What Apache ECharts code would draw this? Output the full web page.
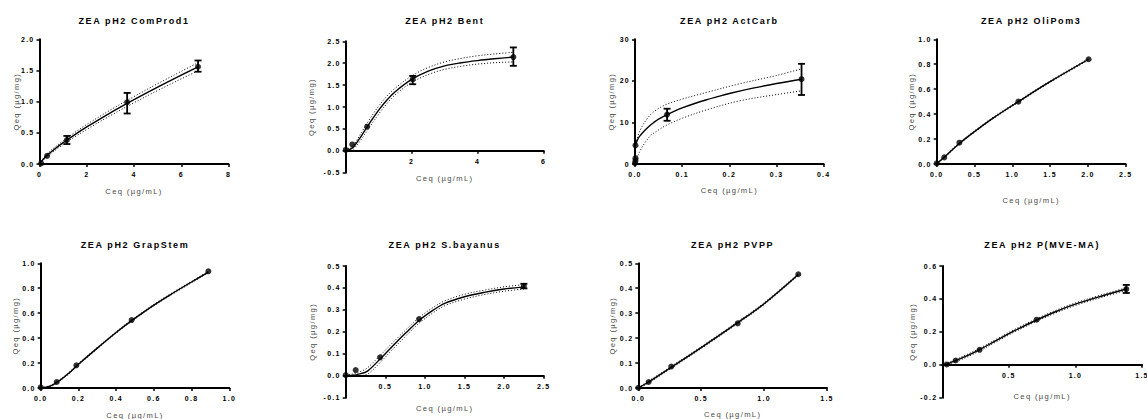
<!DOCTYPE html>
<html>
<head>
<meta charset="utf-8">
<script src="https://cdn.jsdelivr.net/npm/echarts@6/dist/echarts.min.js"></script>
<style>
  html, body { margin: 0; padding: 0; background: #fff; }
  #chart { width: 1147px; height: 419px; }
  /* the source plots use spaced-out lettering */
  #chart text { letter-spacing: 0.18em; }
</style>
</head>
<body>
<div id="chart"></div>
<script>
const xName = 'Ceq (µg/mL)';
const yName = 'Qeq (µg/mg)';

// --- ZEA pH2 ComProd1
const comProd1XLabels = ['0', '2', '4', '6', '8'];
const comProd1YLabels = ['0.0', '0.5', '1.0', '1.5', '2.0'];
const comProd1Points = [[0.07, 0.01], [0.32, 0.13], [1.16, 0.385], [3.71, 0.99], [6.71, 1.56]];
const comProd1Err = [[1.16, 0.32, 0.45], [3.71, 0.81, 1.14], [6.71, 1.48, 1.66]];
const comProd1Fit = [[0, 0], [0.02, 0.015], [0.25, 0.113], [0.5, 0.197], [1, 0.342], [1.5, 0.472], [2, 0.594], [3, 0.821], [4, 1.032], [5, 1.233], [6, 1.426], [6.71, 1.559]];
const comProd1Upper = [[0, 0], [0.25, 0.133], [0.5, 0.222], [1, 0.372], [1.5, 0.507], [2, 0.634], [3, 0.866], [4, 1.082], [5, 1.288], [6, 1.486], [6.71, 1.624]];
const comProd1Lower = [[0, 0], [0.25, 0.093], [0.5, 0.172], [1, 0.312], [1.5, 0.437], [2, 0.554], [3, 0.776], [4, 0.982], [5, 1.178], [6, 1.366], [6.71, 1.494]];

// --- ZEA pH2 Bent
const bentXLabels = ['0', '2', '4', '6'];
const bentYLabels = ['-0.5', '0.0', '0.5', '1.0', '1.5', '2.0', '2.5'];
const bentPoints = [[0, 0.02], [0.2, 0.145], [0.65, 0.55], [2.03, 1.63], [5.08, 2.14]];
const bentErr = [[2.03, 1.52, 1.71], [5.08, 1.94, 2.36]];
const bentFit = [[0, 0], [0.1, 0.02], [0.25, 0.1], [0.5, 0.37], [0.75, 0.66], [1, 0.93], [1.25, 1.16], [1.5, 1.35], [2, 1.63], [2.5, 1.82], [3, 1.94], [3.5, 2.01], [4, 2.06], [4.5, 2.1], [5.08, 2.14]];
const bentUpper = [[0, 0.01], [0.25, 0.15], [0.5, 0.45], [0.75, 0.75], [1, 1.02], [1.25, 1.25], [1.5, 1.43], [2, 1.71], [2.5, 1.9], [3, 2.03], [3.5, 2.11], [4, 2.17], [4.5, 2.21], [5.08, 2.25]];
const bentLower = [[0.15, 0], [0.25, 0.05], [0.5, 0.29], [0.75, 0.57], [1, 0.84], [1.25, 1.08], [1.5, 1.28], [2, 1.56], [2.5, 1.74], [3, 1.86], [3.5, 1.93], [4, 1.98], [4.5, 2.01], [5.08, 2.03]];

// --- ZEA pH2 ActCarb
const actCarbXLabels = ['0.0', '0.1', '0.2', '0.3', '0.4'];
const actCarbYLabels = ['0', '10', '20', '30'];
const actCarbPoints = [[0, 0.2], [0.001, 0.8], [0.001, 1.4], [0.001, 4.5], [0.068, 11.9], [0.353, 20.4]];
const actCarbErr = [[0.068, 10.4, 13.3], [0.353, 16.6, 24.1]];
const actCarbFit = [[0, 0], [0.0003, 3.0], [0.001, 4.5], [0.003, 5.2], [0.006, 6.0], [0.01, 6.7], [0.02, 8.0], [0.03, 9.1], [0.04, 10.0], [0.05, 10.8], [0.068, 11.9], [0.085, 12.8], [0.1, 13.5], [0.125, 14.5], [0.15, 15.4], [0.175, 16.2], [0.2, 16.96], [0.25, 18.24], [0.3, 19.36], [0.353, 20.4]];
const actCarbUpper = [[0, 2.0], [0.0005, 3.5], [0.003, 5.5], [0.013, 8.6], [0.03, 11.5], [0.045, 13.0], [0.068, 14.4], [0.1, 15.6], [0.151, 17.2], [0.222, 19.3], [0.3, 21.3], [0.353, 22.9]];
const actCarbLower = [[0, 0], [0.01, 3.0], [0.031, 6.6], [0.05, 8.2], [0.068, 9.4], [0.1, 11.0], [0.151, 13.0], [0.222, 15.2], [0.3, 16.7], [0.353, 17.6]];

// --- ZEA pH2 OliPom3
const oliPomXLabels = ['0.0', '0.5', '1.0', '1.5', '2.0', '2.5'];
const oliPomYLabels = ['0.0', '0.2', '0.4', '0.6', '0.8', '1.0'];
const oliPomPoints = [[0, 0.005], [0.1, 0.053], [0.3, 0.171], [1.08, 0.5], [2.01, 0.84]];
const oliPomErr = [];
const oliPomFit = [[0, 0], [0.1, 0.055], [0.3, 0.165], [0.5, 0.26], [0.75, 0.37], [1.08, 0.5], [1.5, 0.66], [2.01, 0.84]];
const oliPomUpper = [[0, 0.002], [0.1, 0.059], [0.3, 0.171], [0.5, 0.266], [0.75, 0.376], [1.08, 0.506], [1.5, 0.666], [2.01, 0.846]];
const oliPomLower = [[0, -0.002], [0.1, 0.051], [0.3, 0.159], [0.5, 0.254], [0.75, 0.364], [1.08, 0.494], [1.5, 0.654], [2.01, 0.834]];

// --- ZEA pH2 GrapStem
const grapStemXLabels = ['0.0', '0.2', '0.4', '0.6', '0.8', '1.0'];
const grapStemYLabels = ['0.0', '0.2', '0.4', '0.6', '0.8', '1.0'];
const grapStemPoints = [[0, 0.005], [0.085, 0.048], [0.189, 0.182], [0.482, 0.545], [0.889, 0.936]];
const grapStemErr = [];
const grapStemFit = [[0, 0], [0.05, 0.015], [0.1, 0.06], [0.15, 0.12], [0.2, 0.19], [0.3, 0.32], [0.4, 0.445], [0.482, 0.54], [0.6, 0.665], [0.7, 0.76], [0.8, 0.85], [0.889, 0.93]];
const grapStemUpper = [[0, 0.002], [0.05, 0.02], [0.1, 0.066], [0.15, 0.126], [0.2, 0.196], [0.3, 0.326], [0.4, 0.451], [0.482, 0.546], [0.6, 0.671], [0.7, 0.766], [0.8, 0.856], [0.889, 0.936]];
const grapStemLower = [[0, -0.002], [0.05, 0.01], [0.1, 0.054], [0.15, 0.114], [0.2, 0.184], [0.3, 0.314], [0.4, 0.439], [0.482, 0.534], [0.6, 0.659], [0.7, 0.754], [0.8, 0.844], [0.889, 0.924]];

// --- ZEA pH2 S.bayanus
const bayanusXLabels = ['0.0', '0.5', '1.0', '1.5', '2.0', '2.5'];
const bayanusYLabels = ['-0.1', '0.0', '0.1', '0.2', '0.3', '0.4', '0.5'];
const bayanusPoints = [[0, 0.003], [0.126, 0.026], [0.434, 0.084], [0.926, 0.258], [2.25, 0.409]];
const bayanusErr = [[2.25, 0.398, 0.419]];
const bayanusFit = [[0, 0], [0.1, 0.002], [0.15, 0.006], [0.25, 0.016], [0.3, 0.028], [0.434, 0.076], [0.6, 0.138], [0.75, 0.192], [0.926, 0.252], [1.1, 0.298], [1.25, 0.33], [1.5, 0.36], [1.75, 0.38], [2.0, 0.395], [2.25, 0.405]];
const bayanusUpper = [[0, 0.004], [0.1, 0.008], [0.15, 0.014], [0.25, 0.03], [0.3, 0.044], [0.434, 0.092], [0.6, 0.153], [0.75, 0.206], [0.926, 0.265], [1.1, 0.31], [1.25, 0.341], [1.5, 0.371], [1.75, 0.39], [2.0, 0.405], [2.25, 0.415]];
const bayanusLower = [[0.1, -0.003], [0.15, -0.002], [0.25, 0.004], [0.3, 0.013], [0.434, 0.06], [0.6, 0.123], [0.75, 0.178], [0.926, 0.239], [1.1, 0.286], [1.25, 0.319], [1.5, 0.349], [1.75, 0.37], [2.0, 0.385], [2.25, 0.395]];

// --- ZEA pH2 PVPP
const pvppXLabels = ['0.0', '0.5', '1.0', '1.5'];
const pvppYLabels = ['0.0', '0.1', '0.2', '0.3', '0.4', '0.5'];
const pvppPoints = [[0, 0.001], [0.082, 0.024], [0.262, 0.086], [0.79, 0.259], [1.272, 0.456]];
const pvppErr = [];
const pvppFit = [[0, 0], [0.082, 0.024], [0.262, 0.083], [0.5, 0.162], [0.79, 0.262], [1.0, 0.338], [1.272, 0.455]];
const pvppUpper = [[0, 0.002], [0.082, 0.028], [0.262, 0.087], [0.5, 0.166], [0.79, 0.266], [1.0, 0.342], [1.272, 0.459]];
const pvppLower = [[0, -0.002], [0.082, 0.02], [0.262, 0.079], [0.5, 0.158], [0.79, 0.258], [1.0, 0.334], [1.272, 0.451]];

// --- ZEA pH2 P(MVE-MA)
const mveXLabels = ['0.0', '0.5', '1.0', '1.5'];
const mveYLabels = ['-0.2', '0.0', '0.2', '0.4', '0.6'];
const mvePoints = [[0.033, 0.002], [0.1, 0.026], [0.28, 0.091], [0.709, 0.274], [1.382, 0.46]];
const mveErr = [[1.382, 0.436, 0.485]];
const mveFit = [[0.02, 0], [0.1, 0.025], [0.2, 0.06], [0.28, 0.092], [0.4, 0.145], [0.55, 0.21], [0.709, 0.272], [0.85, 0.322], [1.0, 0.368], [1.2, 0.418], [1.382, 0.46]];
const mveUpper = [[0.02, 0.004], [0.1, 0.032], [0.2, 0.068], [0.28, 0.1], [0.4, 0.153], [0.55, 0.218], [0.709, 0.28], [0.85, 0.33], [1.0, 0.376], [1.2, 0.426], [1.382, 0.468]];
const mveLower = [[0.02, -0.004], [0.1, 0.018], [0.2, 0.052], [0.28, 0.084], [0.4, 0.137], [0.55, 0.202], [0.709, 0.264], [0.85, 0.314], [1.0, 0.36], [1.2, 0.41], [1.382, 0.452]];

const panels = [
  { title: 'ZEA pH2 ComProd1', xl: comProd1XLabels, yl: comProd1YLabels, pts: comProd1Points, err: comProd1Err, fit: comProd1Fit, up: comProd1Upper, lo: comProd1Lower },
  { title: 'ZEA pH2 Bent', xl: bentXLabels, yl: bentYLabels, pts: bentPoints, err: bentErr, fit: bentFit, up: bentUpper, lo: bentLower },
  { title: 'ZEA pH2 ActCarb', xl: actCarbXLabels, yl: actCarbYLabels, pts: actCarbPoints, err: actCarbErr, fit: actCarbFit, up: actCarbUpper, lo: actCarbLower },
  { title: 'ZEA pH2 OliPom3', xl: oliPomXLabels, yl: oliPomYLabels, pts: oliPomPoints, err: oliPomErr, fit: oliPomFit, up: oliPomUpper, lo: oliPomLower },
  { title: 'ZEA pH2 GrapStem', xl: grapStemXLabels, yl: grapStemYLabels, pts: grapStemPoints, err: grapStemErr, fit: grapStemFit, up: grapStemUpper, lo: grapStemLower },
  { title: 'ZEA pH2 S.bayanus', xl: bayanusXLabels, yl: bayanusYLabels, pts: bayanusPoints, err: bayanusErr, fit: bayanusFit, up: bayanusUpper, lo: bayanusLower },
  { title: 'ZEA pH2 PVPP', xl: pvppXLabels, yl: pvppYLabels, pts: pvppPoints, err: pvppErr, fit: pvppFit, up: pvppUpper, lo: pvppLower },
  { title: 'ZEA pH2 P(MVE-MA)', xl: mveXLabels, yl: mveYLabels, pts: mvePoints, err: mveErr, fit: mveFit, up: mveUpper, lo: mveLower },
];

const boxes = [
  { left: 39.5, top: 39.3, width: 189, height: 124.7 },
  { left: 345.7, top: 41.3, width: 198, height: 131.4 },
  { left: 635, top: 39.3, width: 188.7, height: 124.7 },
  { left: 936.7, top: 39.3, width: 189, height: 124.7 },
  { left: 40.7, top: 263.3, width: 188.6, height: 124.7 },
  { left: 345.7, top: 266, width: 198, height: 131.7 },
  { left: 638.3, top: 263.3, width: 188.7, height: 124.7 },
  { left: 942.3, top: 266, width: 199.7, height: 131.7 },
];
const xNameGap = [23, 24, 22, 32, 23.5, 28.5, 22.5, 27.5];
const yNameGap = [19.5, 30.5, 19.5, 21.5, 21, 29, 21.5, 26];
const titleTop = [16, 16, 16, 16, 240, 240, 240, 240];

const FONT = "'Liberation Sans', Arial, sans-serif";

function labelFor(labels) {
  const vals = labels.map(Number);
  return (v) => {
    const i = vals.findIndex(t => Math.abs(t - v) < 1e-9);
    return i < 0 ? '' : labels[i];
  };
}

function errorBar(params, api) {
  const x = api.value(0);
  const a = api.coord([x, api.value(1)]);
  const b = api.coord([x, api.value(2)]);
  const w = 3.5;
  const st = { stroke: '#000', lineWidth: 1.8 };
  return {
    type: 'group',
    children: [
      { type: 'line', shape: { x1: a[0], y1: a[1], x2: b[0], y2: b[1] }, style: st },
      { type: 'line', shape: { x1: a[0] - w, y1: a[1], x2: a[0] + w, y2: a[1] }, style: st },
      { type: 'line', shape: { x1: b[0] - w, y1: b[1], x2: b[0] + w, y2: b[1] }, style: st },
    ],
  };
}

const grid = [], xAxis = [], yAxis = [], title = [], series = [];

panels.forEach((p, i) => {
  const box = boxes[i];
  const xv = p.xl.map(Number), yv = p.yl.map(Number);
  const yMin = yv[0], yMax = yv[yv.length - 1];
  const crossesZero = yMin < 0;
  // x axis sits on y = 0: lift it (with its labels and name) from the grid bottom
  const zeroLift = crossesZero ? -box.height * (0 - yMin) / (yMax - yMin) : 0;

  grid.push({ ...box, containLabel: false, outerBoundsMode: 'none' });

  title.push({
    text: p.title,
    left: box.left + box.width / 2,
    top: titleTop[i],
    textAlign: 'center',
    padding: 0,
    textStyle: { fontFamily: FONT, fontSize: 9, fontWeight: 'bold', color: '#000' },
  });

  const axisLine = { lineStyle: { color: '#000', width: 2 } };
  const axisTick = { length: 3, lineStyle: { color: '#000', width: 1.5 } };
  const nameStyle = { fontFamily: FONT, fontSize: 7.6, color: '#4a4a4a' };
  const labelStyle = { fontFamily: FONT, fontSize: 7, fontWeight: 'bold', color: '#000' };

  xAxis.push({
    gridIndex: i,
    type: 'value',
    min: xv[0], max: xv[xv.length - 1], interval: xv[1] - xv[0],
    offset: zeroLift,
    name: xName, nameLocation: 'middle', nameGap: xNameGap[i],
    nameMoveOverlap: false,
    nameTextStyle: nameStyle,
    axisLine: { ...axisLine, onZero: false },
    axisTick,
    splitLine: { show: false },
    axisLabel: {
      ...labelStyle, margin: 7,
      showMinLabel: !crossesZero, formatter: labelFor(p.xl),
    },
  });

  yAxis.push({
    gridIndex: i,
    type: 'value',
    min: yMin, max: yMax, interval: yv[1] - yv[0],
    name: yName, nameLocation: 'middle', nameGap: yNameGap[i],
    nameMoveOverlap: false,
    nameTextStyle: nameStyle,
    axisLine: { ...axisLine, onZero: false },
    axisTick,
    splitLine: { show: false },
    axisLabel: { ...labelStyle, margin: 5, formatter: labelFor(p.yl) },
  });

  const lineBase = {
    type: 'line', xAxisIndex: i, yAxisIndex: i,
    showSymbol: false, silent: true, smooth: 0.35,
  };
  series.push({ ...lineBase, data: p.up, lineStyle: { color: '#000', width: 1, type: [1, 2] } });
  series.push({ ...lineBase, data: p.lo, lineStyle: { color: '#000', width: 1, type: [1, 2] } });
  series.push({ ...lineBase, data: p.fit, lineStyle: { color: '#000', width: 1.4 } });
  if (p.err.length) {
    series.push({
      type: 'custom', xAxisIndex: i, yAxisIndex: i, silent: true,
      renderItem: errorBar, encode: { x: 0, y: [1, 2] }, data: p.err, z: 3,
    });
  }
  series.push({
    type: 'scatter', xAxisIndex: i, yAxisIndex: i, silent: true,
    data: p.pts, symbol: 'circle', symbolSize: 6,
    itemStyle: { color: '#000' }, z: 4,
  });
});

const chart = echarts.init(document.getElementById('chart'), null, { renderer: 'svg' });
chart.setOption({
  animation: false,
  backgroundColor: '#fff',
  title, grid, xAxis, yAxis, series,
});
</script>
</body>
</html>
